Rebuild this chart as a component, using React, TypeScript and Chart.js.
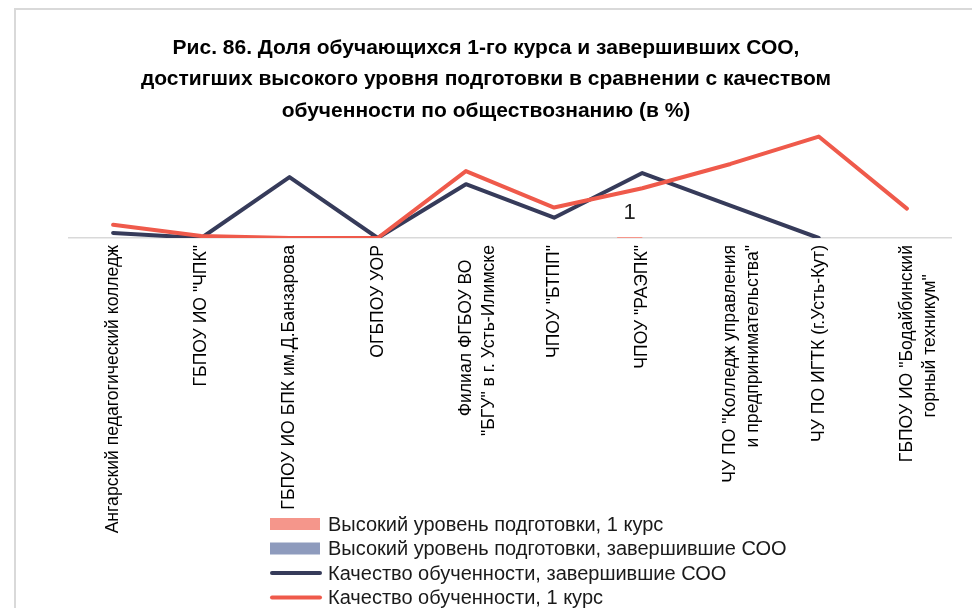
import React, { useEffect, useRef } from "react";
import { Chart, registerables } from "chart.js";

Chart.register(...registerables);

const titleLines = [
  "Рис. 86. Доля обучающихся 1-го курса и завершивших СОО,",
  "достигших высокого уровня подготовки в сравнении с качеством",
  "обученности по обществознанию (в %)",
];

const categories: (string | string[])[] = [
  "Ангарский педагогический колледж",
  'ГБПОУ ИО "ЧПК"',
  "ГБПОУ ИО БПК им.Д.Банзарова",
  "ОГБПОУ УОР",
  ["Филиал ФГБОУ ВО   ", '"БГУ" в г. Усть-Илимске'],
  'ЧПОУ "БТПП"',
  'ЧПОУ "РАЭПК"',
  ['ЧУ ПО "Колледж управления', 'и предпринимательства"'],
  "ЧУ ПО ИГТК (г.Усть-Кут)",
  ['ГБПОУ ИО "Бодайбинский', 'горный техникум"      '],
];

const seriesNames = [
  "Высокий уровень подготовки, 1 курс",
  "Высокий уровень подготовки, завершившие СОО",
  "Качество обученности, завершившие СОО",
  "Качество обученности, 1 курс",
];

const highLevel1: (number | null)[] = [null, null, null, null, null, null, 1, null, null, null];
const highLevelSOO: (number | null)[] = [null, null, null, null, null, null, null, null, null, null];
const qualitySOO: (number | null)[] = [5, 0, 60, 0, 53, 20, 64, 32, 0, null];
const quality1: (number | null)[] = [13, 2, 0, 0, 66, 30, 49, 73, 100, 29];

const COLORS = {
  bar1: "#F5968B",
  barSOO: "#8E9BBD",
  lineSOO: "#363B5A",
  line1: "#EF5A4B",
};

const FONT = "'Liberation Sans', Arial, sans-serif";

export default function App() {
  const ref = useRef<HTMLCanvasElement | null>(null);

  useEffect(() => {
    const canvas = ref.current;
    if (!canvas) return;

    const framePlugin = {
      id: "frame",
      beforeDraw(chart: any) {
        const { ctx, width, height } = chart;
        ctx.save();
        ctx.fillStyle = "#ffffff";
        ctx.fillRect(0, 0, width, height);
        ctx.fillStyle = "#d9d9d9";
        ctx.fillRect(14, 8, 2, height - 8);
        ctx.fillRect(14, 8, width - 14, 2);
        ctx.restore();
      },
    };

    const dataLabelPlugin = {
      id: "barLabels",
      afterDatasetsDraw(chart: any) {
        const { ctx } = chart;
        const meta = chart.getDatasetMeta(0);
        ctx.save();
        ctx.font = `22px ${FONT}`;
        ctx.fillStyle = "#262626";
        ctx.textAlign = "center";
        ctx.textBaseline = "middle";
        meta.data.forEach((el: any, i: number) => {
          const v = highLevel1[i];
          if (v === null || v === undefined) return;
          ctx.fillText(String(v), el.x, el.y - 24);
        });
        ctx.restore();
      },
    };

    const legendPlugin = {
      id: "customLegend",
      afterDraw(chart: any) {
        const { ctx } = chart;
        const x0 = 270;
        const rows = [524, 548.5, 573, 597.5];
        ctx.save();
        ctx.font = `20px ${FONT}`;
        ctx.textBaseline = "middle";
        ctx.textAlign = "left";
        seriesNames.forEach((name, i) => {
          const y = rows[i];
          if (i === 0 || i === 1) {
            ctx.fillStyle = i === 0 ? COLORS.bar1 : COLORS.barSOO;
            ctx.fillRect(x0, y - 6, 50, 12);
          } else {
            ctx.strokeStyle = i === 2 ? COLORS.lineSOO : COLORS.line1;
            ctx.lineWidth = 4;
            ctx.lineCap = "round";
            ctx.beginPath();
            ctx.moveTo(x0 + 2, y);
            ctx.lineTo(x0 + 50, y);
            ctx.stroke();
          }
          ctx.fillStyle = "#1a1a1a";
          ctx.fillText(name, 328, y + 1);
        });
        ctx.restore();
      },
    };

    const chart = new Chart(canvas, {
      type: "bar",
      data: {
        labels: categories,
        datasets: [
          {
            type: "bar",
            label: seriesNames[0],
            data: highLevel1,
            backgroundColor: COLORS.bar1,
            order: 2,
            categoryPercentage: 0.57,
            barPercentage: 1,
          } as any,
          {
            type: "bar",
            label: seriesNames[1],
            data: highLevelSOO,
            backgroundColor: COLORS.barSOO,
            order: 3,
            categoryPercentage: 0.57,
            barPercentage: 1,
          },
          {
            type: "line",
            label: seriesNames[2],
            data: qualitySOO,
            borderColor: COLORS.lineSOO,
            backgroundColor: COLORS.lineSOO,
            borderWidth: 4,
            pointRadius: 0,
            tension: 0,
            borderCapStyle: "round",
            borderJoinStyle: "round",
            order: 1,
          },
          {
            type: "line",
            label: seriesNames[3],
            data: quality1,
            borderColor: COLORS.line1,
            backgroundColor: COLORS.line1,
            borderWidth: 4,
            pointRadius: 0,
            tension: 0,
            borderCapStyle: "round",
            borderJoinStyle: "round",
            order: 0,
          },
        ],
      },
      options: {
        responsive: false,
        animation: false,
        devicePixelRatio: 1,
        layout: {
          padding: { left: 21, right: 21, top: 0, bottom: 60 },
        },
        plugins: {
          legend: { display: false },
          tooltip: { enabled: false },
          title: {
            display: true,
            text: titleLines,
            color: "#000000",
            font: { family: FONT, size: 21, weight: "bold", lineHeight: 1.5 },
            padding: { top: 32, bottom: 6 },
          },
        },
        scales: {
          x: {
            grid: { display: false, drawTicks: false },
            border: { display: true, color: "#d9d9d9", width: 1.5 },
            ticks: {
              autoSkip: false,
              minRotation: 90,
              maxRotation: 90,
              padding: 7,
              color: "#000000",
              font: { family: FONT, size: 17.6, lineHeight: 1.3 },
            },
            afterFit: (scale: any) => {
              scale.height = 310;
            },
          },
          y: {
            display: true,
            min: 0,
            max: 104,
            grid: { display: false, drawTicks: false },
            border: { display: false },
            ticks: { display: false },
            afterFit: (scale: any) => {
              scale.width = 48;
            },
          },
        },
      },
      plugins: [framePlugin, dataLabelPlugin, legendPlugin],
    });

    return () => chart.destroy();
  }, []);

  return (
    <div style={{ position: "fixed", left: 0, top: 0, width: 972, height: 608, background: "#fff" }}>
      <canvas ref={ref} width={972} height={608} style={{ display: "block", width: 972, height: 608 }} />
    </div>
  );
}
